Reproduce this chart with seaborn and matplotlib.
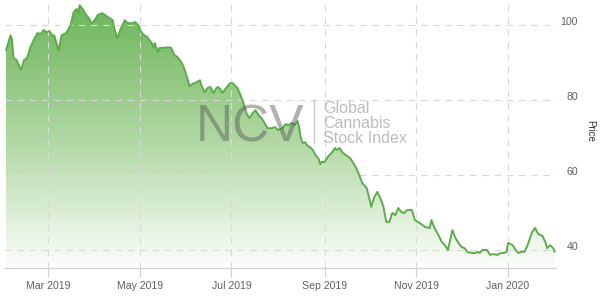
import numpy as np
import pandas as pd
import matplotlib
matplotlib.use("Agg")
import matplotlib.pyplot as plt
import matplotlib.dates as mdates
from matplotlib.lines import Line2D
from matplotlib.transforms import ScaledTranslation
from matplotlib.colors import LinearSegmentedColormap
import seaborn as sns

# ---------------- data ----------------
start_date = "2019-02-01"
day_offsets = [
    0, 3, 4, 5, 7, 10, 12, 14, 16, 19, 21, 23, 25, 27, 29, 31, 32, 35, 37, 40,
    43, 45, 47, 48, 49, 51, 53, 55, 57, 59, 61, 64, 68, 71, 72, 74, 76, 79, 81, 84,
    86, 88, 90, 92, 94, 97, 98, 99, 101, 102, 104, 108, 110, 112, 114, 117, 119, 121, 122, 124,
    127, 129, 130, 132, 134, 136, 138, 140, 141, 143, 144, 147, 149, 151, 154, 156, 158, 160, 162, 164,
    166, 168, 170, 172, 174, 177, 179, 181, 184, 186, 188, 190, 192, 194, 195, 196, 197, 198, 199, 200,
    202, 204, 206, 208, 209, 210, 212, 214, 217, 219, 220, 222, 224, 227, 229, 231, 233, 235, 237, 240,
    242, 243, 245, 247, 249, 251, 253, 255, 257, 259, 261, 263, 265, 267, 270, 272, 274, 277, 279, 282,
    283, 285, 287, 290, 292, 294, 297, 299, 301, 303, 305, 307, 310, 312, 314, 315, 317, 320, 322, 324,
    327, 329, 331, 333, 334, 337, 339, 341, 343, 345, 347, 350, 352, 354, 357, 359, 360, 362, 364, 365,
]
prices = [
    93.3, 97.3, 96.0, 91.2, 90.7, 88.0, 90.7, 91.2, 93.9, 96.5, 97.9, 97.6, 98.7, 98.1, 98.4, 97.1, 97.3, 93.3, 97.3, 97.9,
    100.0, 103.5, 104.3, 103.2, 105.3, 104.3, 102.9, 101.9, 100.5, 101.3, 102.7, 103.2, 102.1, 101.3, 99.2, 96.5, 98.7, 101.3, 100.5, 100.5,
    100.8, 100.0, 98.1, 97.3, 96.8, 95.2, 94.1, 95.2, 92.8, 93.9, 93.9, 94.1, 93.9, 92.0, 91.5, 89.9, 88.0, 85.3, 83.7, 84.3,
    84.8, 85.3, 84.0, 82.1, 83.2, 83.5, 81.9, 83.2, 83.5, 82.7, 81.9, 83.5, 84.5, 84.5, 83.2, 81.3, 79.2, 76.5, 75.2, 76.5,
    77.3, 76.0, 75.2, 73.9, 72.5, 72.5, 72.8, 72.0, 72.5, 73.6, 73.3, 73.9, 73.3, 74.4, 72.8, 70.1, 68.8, 68.5, 68.8, 68.0,
    67.5, 66.7, 65.3, 64.3, 62.9, 63.5, 63.5, 64.8, 66.1, 67.2, 66.7, 67.2, 65.9, 65.1, 64.5, 63.2, 61.9, 60.0, 57.9, 56.5,
    53.3, 51.5, 54.1, 55.5, 53.9, 51.7, 47.5, 47.5, 49.9, 49.3, 51.2, 50.1, 49.9, 50.7, 50.7, 48.0, 47.5, 46.7, 46.1, 45.9,
    48.0, 45.9, 44.5, 42.1, 41.3, 40.0, 45.3, 43.2, 41.9, 40.8, 40.5, 39.5, 39.2, 39.2, 39.5, 39.2, 40.0, 40.0, 38.7, 38.9,
    38.7, 39.2, 39.2, 39.5, 41.9, 41.3, 40.0, 39.2, 39.5, 39.5, 41.3, 44.8, 45.9, 44.3, 43.7, 41.9, 40.5, 41.3, 40.5, 39.5,
]
x_tick_dates = ["2019-03-01", "2019-05-01", "2019-07-01", "2019-09-01", "2019-11-01", "2020-01-01"]
x_tick_labels = ["Mar 2019", "May 2019", "Jul 2019", "Sep 2019", "Nov 2019", "Jan 2020"]
y_ticks = [40, 60, 80, 100]
y_tick_labels = ["40", "60", "80", "100"]
y_axis_title = "Price"
watermark_main = "NCV"
watermark_sub = ["Global", "Cannabis", "Stock Index"]

# ---------------- build ----------------
dates = pd.Timestamp(start_date) + pd.to_timedelta(day_offsets, unit="D")
df = pd.DataFrame({"date": dates, "price": prices})

sns.set_theme(style="white")
plt.rcParams["font.family"] = ["Liberation Sans", "DejaVu Sans"]

W, H = 600, 298
fig = plt.figure(figsize=(W / 100, H / 100), dpi=100)
fig.patch.set_facecolor("white")
ax = fig.add_axes([5 / W, 30 / H, 551 / W, 268 / H])
ax.set_facecolor("none")

x0 = pd.Timestamp(start_date) - pd.Timedelta(days=0.67)
x1 = pd.Timestamp(start_date) + pd.Timedelta(days=365.9)
y0, y1 = 35.2, 106.7
ax.set_xlim(x0, x1)
ax.set_ylim(y0, y1)

# gradient area fill
poly = ax.fill_between(df["date"], df["price"], y0, facecolor="none", lw=0)
cmap = LinearSegmentedColormap.from_list("g", ["#fcfefc", "#add69f", "#6ab458"])
grad = np.linspace(0, 1, 256).reshape(-1, 1)
im = ax.imshow(grad, cmap=cmap, aspect="auto", origin="lower",
               extent=[mdates.date2num(x0), mdates.date2num(x1), y0, y1], zorder=1)
im.set_clip_path(poly.get_paths()[0], transform=ax.transData)
ax.set_xlim(x0, x1)
ax.set_ylim(y0, y1)

sns.lineplot(data=df, x="date", y="price", color="#5dab4b", lw=1.4, ax=ax, zorder=4)

# grid
ax.set_xticks(pd.to_datetime(x_tick_dates))
ax.set_xticklabels(x_tick_labels)
ax.set_yticks(y_ticks)
ax.set_yticklabels(y_tick_labels)
ax.grid(True, color="#d9d9d9", lw=0.8, linestyle=(0, (6, 5)), zorder=2)
ax.set_axisbelow(False)
for gl in ax.get_xgridlines() + ax.get_ygridlines():
    gl.set_zorder(2)

for s in ["top", "left", "right"]:
    ax.spines[s].set_visible(False)
ax.spines["bottom"].set_color("#d0d0d0")
ax.spines["bottom"].set_linewidth(0.9)
ax.spines["bottom"].set_zorder(5)

ax.tick_params(axis="x", length=6.5, width=0.8, color="#d0d0d0", pad=3,
               labelsize=7.6, labelcolor="#606060", direction="out", bottom=True)
ax.yaxis.tick_right()
ax.tick_params(axis="y", length=0, pad=15.8, labelsize=7.6, labelcolor="#606060")
for lab in ax.get_yticklabels():
    lab.set_horizontalalignment("right")
    lab.set_transform(lab.get_transform() + ScaledTranslation(0, 4 / 72 * 0.72, fig.dpi_scale_trans))
ax.set_xlabel("")
ax.set_ylabel("")

fig.text(590 / W, 1 - 131 / H, y_axis_title, rotation=270, fontsize=7,
         color="#333333", ha="center", va="center")

# watermark
fig.text(196 / W, 1 - 141 / H, watermark_main, fontsize=37, color="#555555",
         alpha=0.45, ha="left", va="baseline", zorder=10)
fig.add_artist(Line2D([314 / W, 314 / W], [1 - 100 / H, 1 - 143 / H],
                      transform=fig.transFigure, color="#aaaaaa", lw=1, alpha=0.6))
for i, t in enumerate(watermark_sub):
    fig.text(323 / W, 1 - (113 + 15 * i) / H, t, fontsize=11.5, color="#999999",
             alpha=0.65, ha="left", va="baseline", zorder=10)

fig.savefig("out.png", dpi=100, facecolor="white")
